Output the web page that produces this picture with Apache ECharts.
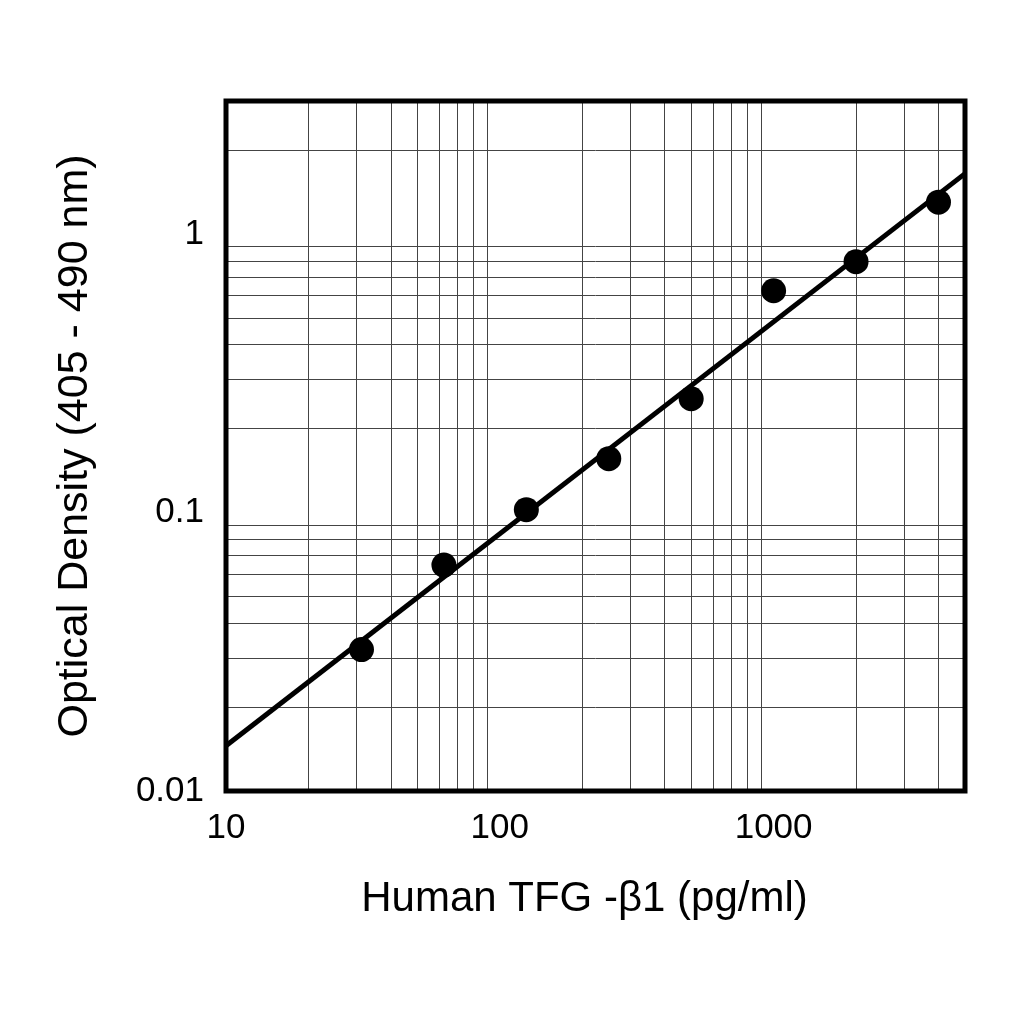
<!DOCTYPE html>
<html>
<head>
<meta charset="utf-8">
<script src="https://cdn.jsdelivr.net/npm/echarts@6/dist/echarts.min.js"></script>
<style>
	html, body { margin: 0; padding: 0; background: #fff; }
	#chart { width: 1024px; height: 1024px; }
</style>
</head>
<body>
<div id="chart"></div>
<script>
// standard points (pg/ml) and optical density
var conc = [31.25, 62.5, 125, 250, 500, 1000, 2000, 4000];
var od = [0.0322, 0.0647, 0.1023, 0.156, 0.256, 0.625, 0.795, 1.30];

// fitted line end points
var fitX = [10, 5000];
var fitY = [0.01453, 1.646];

// axis ranges, labels and grid lines
var xRange = [10, 5000];
var yRange = [0.01, 3];
var xLabels = [10, 100, 1000];
var yLabels = [0.01, 0.1, 1];
var xGrid = [20, 30, 40, 50, 60, 70, 80, 90, 200, 300, 400, 500, 600, 700, 800, 900, 2000, 3000, 4000];
var yGrid = [0.02, 0.03, 0.04, 0.05, 0.06, 0.07, 0.08, 0.09, 0.2, 0.3, 0.4, 0.5, 0.6, 0.7, 0.8, 0.9, 2];

var font = 'Liberation Sans, Arial, sans-serif';

function onlyLabels(list) {
	return function(v) {
		for (let i = 0; i < list.length; i++) {
			if (Math.abs(Math.log10(v) - Math.log10(list[i])) < 1e-6) return String(list[i]);
		}
		return '';
	};
}

var gridLines = [];
xGrid.forEach(v => gridLines.push({ xAxis: v }));
yGrid.forEach(v => gridLines.push({ yAxis: v }));

var chart = echarts.init(document.getElementById('chart'));
var option = {
	animation: false,
	grid: {
		left: 226,
		right: 59,
		top: 101,
		bottom: 233,
		show: true,
		borderColor: '#000',
		borderWidth: 5,
		backgroundColor: 'transparent',
		z: 10
	},
	xAxis: {
		type: 'log',
		logBase: 10,
		min: xRange[0],
		max: xRange[1],
		name: 'Human TFG -\u03b21 (pg/ml)',
		nameLocation: 'middle',
		nameGap: 87,
		nameTextStyle: { fontFamily: font, fontSize: 42, color: '#000', padding: [0, 22, 0, 0] },
		axisLine: { show: false },
		axisTick: { show: false },
		splitLine: { show: false },
		axisLabel: {
			formatter: onlyLabels(xLabels),
			fontFamily: font,
			fontSize: 35,
			color: '#000',
			margin: 20
		}
	},
	yAxis: {
		type: 'log',
		logBase: 10,
		min: yRange[0],
		max: yRange[1],
		name: 'Optical Density (405 - 490 nm)',
		nameLocation: 'middle',
		nameGap: 129,
		nameTextStyle: { fontFamily: font, fontSize: 43, color: '#000' },
		axisLine: { show: false },
		axisTick: { show: false },
		splitLine: { show: false },
		axisLabel: {
			formatter: onlyLabels(yLabels),
			fontFamily: font,
			fontSize: 35,
			color: '#000',
			margin: 22
		}
	},
	series: [{
		type: 'line',
		data: fitX.map((x, i) => [x, fitY[i]]),
		showSymbol: false,
		silent: true,
		z: 2,
		lineStyle: { color: '#000', width: 5 },
		markLine: {
			silent: true,
			symbol: 'none',
			z: 1,
			label: { show: false },
			lineStyle: { color: '#444', width: 1, type: 'solid' },
			data: gridLines
		}
	}, {
		type: 'scatter',
		data: conc.map((x, i) => [x, od[i]]),
		symbol: 'circle',
		symbolSize: 25,
		z: 3,
		itemStyle: { color: '#000', opacity: 1 }
	}]
};
chart.setOption(option);
</script>
</body>
</html>
